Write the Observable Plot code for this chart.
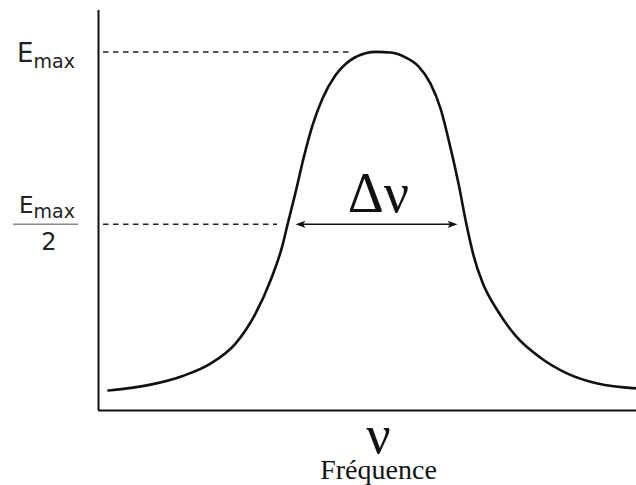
<!DOCTYPE html>
<html>
<head>
<meta charset="utf-8">
<script src="https://cdn.jsdelivr.net/npm/d3@7"></script>
<script src="https://cdn.jsdelivr.net/npm/@observablehq/plot@0.6"></script>
<style>
  html, body { margin: 0; padding: 0; background: #fff; }
</style>
</head>
<body>
<div id="chart"></div>
<script>
// Frequency (relative to the line centre) and energy (fraction of Emax)
const freq = [-2.67, -2.25, -1.92, -1.65, -1.40, -1.20, -1.05, -0.93, -0.88, -0.80, -0.72, -0.63, -0.53, -0.40, -0.25, -0.10, 0.01, 0.15, 0.30, 0.43, 0.55, 0.65, 0.74, 0.83, 0.91, 0.98, 1.07, 1.22, 1.40, 1.65, 1.92, 2.22, 2.61];
const energy = [0.018, 0.035, 0.061, 0.096, 0.154, 0.241, 0.337, 0.439, 0.499, 0.592, 0.691, 0.787, 0.865, 0.932, 0.976, 0.996, 1.0, 0.998, 0.984, 0.958, 0.908, 0.836, 0.734, 0.618, 0.499, 0.410, 0.331, 0.250, 0.177, 0.113, 0.067, 0.038, 0.024];

const xDomain = [-2.77, 2.61];
const yDomain = [-0.04, 1.12];
const levels = [1, 0.5];             // Emax and Emax/2
const dashEnds = [-0.25, -0.98];     // where the dashed guides stop
const fwhm = [-0.80, 0.82];          // ends of the Δν arrow
const centre = 0.03;

const curve = freq.map((f, i) => ({f, e: energy[i]}));
const [xmin, xmax] = xDomain;
const [ymin, ymax] = yDomain;

const headRight = {draw(ctx) { ctx.moveTo(0, 0); ctx.lineTo(-10, -3.6); ctx.lineTo(-7.5, 0); ctx.lineTo(-10, 3.6); ctx.closePath(); }};
const headLeft = {draw(ctx) { ctx.moveTo(0, 0); ctx.lineTo(10, -3.6); ctx.lineTo(7.5, 0); ctx.lineTo(10, 3.6); ctx.closePath(); }};

const sans = "'DejaVu Sans'";
const serif = "'Liberation Serif'";

const chart = Plot.plot({
  width: 636,
  height: 485,
  margin: 0,
  x: {domain: xDomain, range: [98, 636], axis: null},
  y: {domain: yDomain, range: [410, 10], axis: null},
  marks: [
    // dashed guides
    Plot.ruleY(levels.map((l, i) => ({l, end: dashEnds[i]})), {
      y: "l", x1: xmin + 0.05, x2: "end",
      stroke: "#222", strokeWidth: 1.5, strokeDasharray: "5.5,4.5"
    }),
    // axes
    Plot.ruleX([xmin], {y1: ymin, y2: ymax, stroke: "#111", strokeWidth: 2}),
    Plot.ruleY([ymin], {x1: xmin, x2: xmax, stroke: "#111", strokeWidth: 2}),
    // curve
    Plot.line(curve, {x: "f", y: "e", curve: "monotone-x", stroke: "#111", strokeWidth: 2.6}),
    // Δν arrow
    Plot.ruleY([0.5], {x1: fwhm[0] + 0.05, x2: fwhm[1] - 0.05, stroke: "#111", strokeWidth: 1.4}),
    Plot.dot([fwhm[1]], {x: d => d, y: 0.5, symbol: headRight, fill: "#111", stroke: "none", r: 4}),
    Plot.dot([fwhm[0]], {x: d => d, y: 0.5, symbol: headLeft, fill: "#111", stroke: "none", r: 4}),
    Plot.text(["Δν"], {x: centre, y: 0.5, text: d => d, lineAnchor: "bottom", dy: -12.5, fontFamily: serif, fontSize: 56, fill: "#111"}),
    // Emax label
    Plot.text(["E"], {x: xmin, y: levels[0], text: d => d, textAnchor: "end", lineAnchor: "bottom", dx: -65, dy: 10.6, fontFamily: sans, fontSize: 26, fill: "#222"}),
    Plot.text(["max"], {x: xmin, y: levels[0], text: d => d, textAnchor: "start", lineAnchor: "bottom", dx: -65, dy: 15.8, fontFamily: sans, fontSize: 19, fill: "#222"}),
    // Emax/2 label
    Plot.text(["E"], {x: xmin, y: levels[1], text: d => d, textAnchor: "end", lineAnchor: "bottom", dx: -65, dy: -10.8, fontFamily: sans, fontSize: 23, fill: "#222"}),
    Plot.text(["max"], {x: xmin, y: levels[1], text: d => d, textAnchor: "start", lineAnchor: "bottom", dx: -65, dy: -5.8, fontFamily: sans, fontSize: 19, fill: "#222"}),
    Plot.ruleY([levels[1]], {x1: xmin - 0.85, x2: xmin - 0.2, stroke: "#888", strokeWidth: 1.5}),
    Plot.text(["2"], {x: xmin, y: levels[1], text: d => d, textAnchor: "middle", lineAnchor: "bottom", dx: -49.5, dy: 26.2, fontFamily: sans, fontSize: 24, fill: "#222"}),
    // x-axis label
    Plot.text(["ν"], {x: centre, y: ymin, text: d => d, lineAnchor: "bottom", dy: 42, fontFamily: serif, fontSize: 54, fill: "#111"}),
    Plot.text(["Fréquence"], {x: centre, y: ymin, text: d => d, lineAnchor: "bottom", dy: 68, fontFamily: serif, fontSize: 28, fill: "#111"})
  ]
});
document.getElementById("chart").append(chart);
</script>
</body>
</html>
